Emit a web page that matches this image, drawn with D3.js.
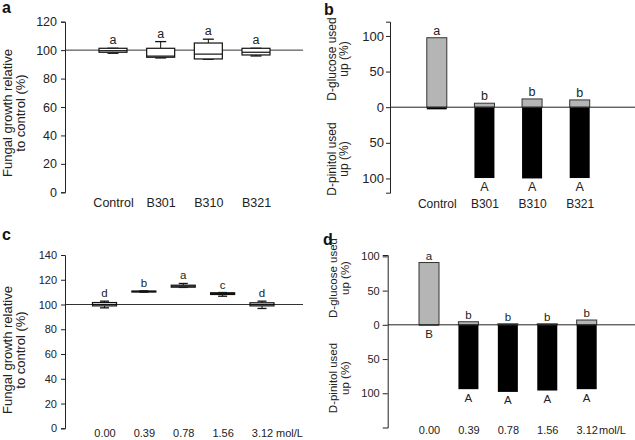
<!DOCTYPE html>
<html>
<head>
<meta charset="utf-8">
<script src="https://cdn.jsdelivr.net/npm/d3@7"></script>
<style>
  html, body { margin: 0; padding: 0; background: #fff; }
  svg { display: block; font-family: "Liberation Sans", Arial, sans-serif; }
  .tick text { fill: #222; }
</style>
</head>
<body>
<svg id="chart" width="635" height="440"></svg>
<script>
// ---------- DATA ----------
// Panel a: fungal growth boxplots
const aCategories = ["Control", "B301", "B310", "B321"];
const aMin    = [97.8, 94.5, 93.6, 95.9];
const aQ1     = [98.5, 95.0, 93.8, 96.6];
const aMedian = [99.6, 95.8, 97.2, 98.5];
const aQ3     = [101.3, 101.3, 105.0, 101.3];
const aMax    = [101.3, 106.0, 107.7, 101.3];
const aLetters = ["a", "a", "a", "a"];
const aTicks = [0, 20, 40, 60, 80, 100, 120];

// Panel b: sugars used up
const bCategories = ["Control", "B301", "B310", "B321"];
const bGlucose = [97.5, 5.6, 11.6, 10.2];
const bPinitol = [3, 99.4, 100, 99.4];
const bGlucoseLetters = ["a", "b", "b", "b"];
const bPinitolLetters = ["", "A", "A", "A"];
const bTicks = [100, 50, 0, -50, -100];

// Panel c: fungal growth vs concentration
const cCategories = ["0.00", "0.39", "0.78", "1.56", "3.12"];
const cMin    = [97.3, 110.0, 113.8, 106.7, 96.8];
const cQ1     = [98.9, 110.1, 114.0, 108.1, 98.9];
const cMedian = [100.0, 110.5, 114.8, 108.8, 100.0];
const cQ3     = [101.6, 110.9, 115.6, 109.5, 101.4];
const cMax    = [102.7, 111.0, 117.0, 109.7, 102.7];
const cLetters = ["d", "b", "a", "c", "d"];
const cTicks = [0, 20, 40, 60, 80, 100, 120, 140];

// Panel d: sugars used up vs concentration
const dCategories = ["0.00", "0.39", "0.78", "1.56", "3.12"];
const dGlucose = [91, 4.5, 1.5, 1.5, 7];
const dPinitol = [1, 94, 98, 96, 94];
const dGlucoseLetters = ["a", "b", "b", "b", "b"];
const dPinitolLetters = ["B", "A", "A", "A", "A"];
const dTicks = [100, 50, 0, -50, -100];

const unitLabel = "mol/L";

// ---------- DRAWING ----------
const svg = d3.select("#chart");
const AXIS = "#222";
const GREY = "#b5b5b5";

function panelLabel(txt, x, y) {
  svg.append("text").attr("x", x).attr("y", y)
    .attr("font-size", 16).attr("font-weight", "bold").attr("fill", "#111").text(txt);
}

function yTitle(lines, xs, cy, fs) {
  lines.forEach((l, i) => {
    svg.append("text")
      .attr("transform", `translate(${xs[i]},${cy}) rotate(-90)`)
      .attr("text-anchor", "middle").attr("font-size", fs).attr("fill", "#222")
      .text(l);
  });
}

function yAxis(scale, ticks, ax, tickSize, pad, fs, fmt) {
  const g = svg.append("g").attr("transform", `translate(${ax},0)`)
    .call(d3.axisLeft(scale).tickValues(ticks).tickSizeOuter(0).tickSize(tickSize).tickPadding(pad)
      .tickFormat(fmt || (d => d)));
  g.attr("font-family", null).attr("font-size", null);
  g.select(".domain").attr("stroke", AXIS);
  g.selectAll(".tick line").attr("stroke", AXIS);
  g.selectAll("text").attr("font-size", fs);
  return g;
}

function xLabels(scale, baseline, fs) {
  const g = svg.append("g").attr("transform", `translate(0,${baseline})`)
    .call(d3.axisBottom(scale).tickSize(0).tickPadding(0));
  g.select(".domain").remove();
  g.attr("font-family", null).attr("font-size", null);
  g.selectAll("text").attr("dy", null).attr("y", 0).attr("font-size", fs);
  return g;
}

function boxPanel(cats, mins, q1s, meds, q3s, maxs, letters, yScale, xScale, boxW, capW, fs) {
  const data = cats.map((c, i) => ({ c, min: mins[i], q1: q1s[i], med: meds[i], q3: q3s[i], max: maxs[i], l: letters[i] }));
  const g = svg.append("g");
  const items = g.selectAll("g.box").data(data).join("g");
  items.append("line")
    .attr("x1", d => xScale(d.c)).attr("x2", d => xScale(d.c))
    .attr("y1", d => yScale(d.max)).attr("y2", d => yScale(d.q3))
    .attr("stroke", "#111");
  items.append("line")
    .attr("x1", d => xScale(d.c)).attr("x2", d => xScale(d.c))
    .attr("y1", d => yScale(d.q1)).attr("y2", d => yScale(d.min))
    .attr("stroke", "#111");
  items.append("line")
    .attr("x1", d => xScale(d.c) - capW / 2).attr("x2", d => xScale(d.c) + capW / 2)
    .attr("y1", d => yScale(d.max)).attr("y2", d => yScale(d.max))
    .attr("stroke", "#111").attr("stroke-width", 1.3);
  items.append("line")
    .attr("x1", d => xScale(d.c) - capW / 2).attr("x2", d => xScale(d.c) + capW / 2)
    .attr("y1", d => yScale(d.min)).attr("y2", d => yScale(d.min))
    .attr("stroke", "#111").attr("stroke-width", 1.3);
  items.append("rect")
    .attr("x", d => xScale(d.c) - boxW / 2).attr("width", boxW)
    .attr("y", d => yScale(d.q3)).attr("height", d => Math.max(1, yScale(d.q1) - yScale(d.q3)))
    .attr("fill", "#fff").attr("stroke", "#111").attr("stroke-width", 1.2);
  items.append("line")
    .attr("x1", d => xScale(d.c) - boxW / 2).attr("x2", d => xScale(d.c) + boxW / 2)
    .attr("y1", d => yScale(d.med)).attr("y2", d => yScale(d.med))
    .attr("stroke", "#111").attr("stroke-width", 1.2);
  items.append("text")
    .attr("x", d => xScale(d.c)).attr("y", d => yScale(d.max) - 4)
    .attr("text-anchor", "middle").attr("font-size", fs).attr("fill", "#222")
    .text(d => d.l);
}

function barPanel(cats, glu, pin, gl, pl, yScale, xScale, barW, fs) {
  const data = cats.map((c, i) => ({ c, g: glu[i], p: pin[i], gl: gl[i], pl: pl[i] }));
  const g = svg.append("g");
  g.selectAll("rect.pin").data(data).join("rect")
    .attr("x", d => xScale(d.c) - barW / 2).attr("width", barW)
    .attr("y", yScale(0)).attr("height", d => yScale(-d.p) - yScale(0))
    .attr("fill", "#000");
  g.selectAll("rect.glu").data(data).join("rect")
    .attr("x", d => xScale(d.c) - barW / 2).attr("width", barW)
    .attr("y", d => yScale(d.g)).attr("height", d => yScale(0) - yScale(d.g))
    .attr("fill", GREY).attr("stroke", "#333").attr("stroke-width", 1);
  g.selectAll("text.gl").data(data).join("text")
    .attr("x", d => xScale(d.c)).attr("y", d => yScale(d.g) - 3)
    .attr("text-anchor", "middle").attr("font-size", fs).attr("fill", "#222")
    .text(d => d.gl);
  g.selectAll("text.pl").data(data).join("text")
    .attr("x", d => xScale(d.c)).attr("y", d => yScale(-d.p) + 12.5)
    .attr("text-anchor", "middle").attr("font-size", fs).attr("fill", "#222")
    .text(d => d.pl);
}

// ----- Panel a -----
panelLabel("a", 2, 13);
const yA = d3.scaleLinear().domain([0, 120]).range([192.3, 21.7]);
const xA = d3.scalePoint().domain(aCategories).range([113, 256]);
svg.append("line").attr("x1", 65).attr("x2", 303).attr("y1", yA(100)).attr("y2", yA(100))
  .attr("stroke", "#333");
boxPanel(aCategories, aMin, aQ1, aMedian, aQ3, aMax, aLetters, yA, xA, 28, 11, 12.5);
yAxis(yA, aTicks, 65, 4, 4, 12.5);
xLabels(xA, 206.5, 12.5);
yTitle(["Fungal growth relative", "to control (%)"], [12, 24.5], 113, 13);

// ----- Panel b -----
panelLabel("b", 324, 15);
const yB = d3.scaleLinear().domain([-120, 120]).range([192.7, 21.7]);
const xB = d3.scalePoint().domain(bCategories).range([436.8, 579.7]);
barPanel(bCategories, bGlucose, bPinitol, bGlucoseLetters, bPinitolLetters, yB, xB, 20, 12.5);
svg.append("line").attr("x1", 390).attr("x2", 635).attr("y1", yB(0)).attr("y2", yB(0))
  .attr("stroke", "#222");
yAxis(yB, bTicks, 390, 4, 2, 13, d => Math.abs(d));
xLabels(xB, 207.5, 12);
yTitle(["D-glucose used", "up (%)"], [335.5, 347.5], 59, 12);
yTitle(["D-pinitol used", "up (%)"], [335.5, 347.5], 159, 12);

// ----- Panel c -----
panelLabel("c", 2, 240);
const yC = d3.scaleLinear().domain([0, 140]).range([428.3, 255]);
const xC = d3.scalePoint().domain(cCategories).range([104.5, 262]);
svg.append("line").attr("x1", 65).attr("x2", 303).attr("y1", yC(100)).attr("y2", yC(100))
  .attr("stroke", "#333");
boxPanel(cCategories, cMin, cQ1, cMedian, cQ3, cMax, cLetters, yC, xC, 24, 9, 11.5);
yAxis(yC, cTicks, 65, 4, 4, 11);
xLabels(xC, 436.5, 11);
svg.append("text").attr("x", 276).attr("y", 436.5).attr("font-size", 11).attr("fill", "#222").text(unitLabel);
yTitle(["Fungal growth relative", "to control (%)"], [12, 24.5], 350, 13);

// ----- Panel d -----
panelLabel("d", 323, 245);
const yD = d3.scaleLinear().domain([-150, 102]).range([427.5, 255]);
const xD = d3.scalePoint().domain(dCategories).range([429, 586.7]);
barPanel(dCategories, dGlucose, dPinitol, dGlucoseLetters, dPinitolLetters, yD, xD, 20, 11.5);
svg.append("line").attr("x1", 387.7).attr("x2", 635).attr("y1", yD(0)).attr("y2", yD(0))
  .attr("stroke", "#222");
yAxis(yD, dTicks, 387.7, 5, 3, 11, d => Math.abs(d));
xLabels(xD, 433.5, 11);
svg.append("text").attr("x", 599).attr("y", 433.5).attr("font-size", 11).attr("fill", "#222").text(unitLabel);
yTitle(["D-glucose used", "up (%)"], [336.5, 348.5], 278, 11.5);
yTitle(["D-pinitol used", "up (%)"], [336.5, 348.5], 378, 11.5);
</script>
</body>
</html>
